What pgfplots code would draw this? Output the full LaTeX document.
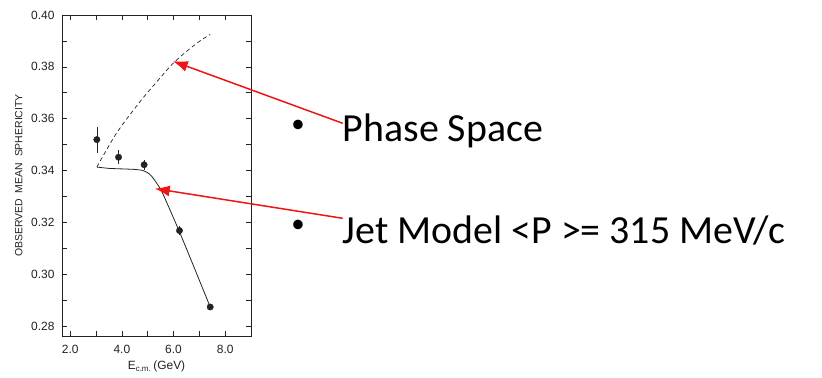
\documentclass[border=0pt]{standalone}
\usepackage{pgfplots}
\pgfplotsset{compat=1.18}
\usepackage{fontspec}
\setmainfont{Carlito}
\newfontfamily\scanfont{Liberation Sans}
\usetikzlibrary{arrows.meta}
\definecolor{ink}{RGB}{35,35,35}
\definecolor{arrowred}{RGB}{240,20,20}
\begin{document}
\begin{tikzpicture}[x=1bp,y=1bp]
\fill[white] (0,0) rectangle (822,377);
\begin{axis}[
  at={(62bp,41bp)}, anchor=south west,
  scale only axis, width=189bp, height=321bp,
  xmin=1.68, xmax=9, ymin=0.2761, ymax=0.40,
  axis line style={ink, line width=0.8pt},
  xtick={2,4,6,8}, minor xtick={3,5,7,9},
  ytick={0.28,0.30,0.32,0.34,0.36,0.38,0.40},
  minor ytick={0.29,0.31,0.33,0.35,0.37,0.39},
  tick align=inside, major tick length=5bp, minor tick length=5bp,
  every tick/.style={ink, line width=0.6pt},
  xticklabel style={/pgf/number format/fixed, /pgf/number format/fixed zerofill, /pgf/number format/precision=1, yshift=-6bp},
  yticklabel style={/pgf/number format/fixed, /pgf/number format/fixed zerofill, /pgf/number format/precision=2, xshift=-4bp},
  /pgf/number format/assume math mode=true,
  ticklabel style={font=\scanfont\fontsize{12}{14}\selectfont, text=ink},
  ylabel={OBSERVED\ \ MEAN\ \ SPHERICITY},
  ylabel style={font=\scanfont\fontsize{10.5}{12}\selectfont, text=ink, yshift=2bp},
  xlabel={E\textsubscript{c.m.}\,(GeV)},
  xlabel style={font=\scanfont\fontsize{12}{14}\selectfont, text=ink, yshift=0bp},
  clip=false,
]
% Phase space (dashed)
\addplot[ink, line width=0.7pt, dash pattern=on 4bp off 3bp, smooth, tension=0.6] coordinates {
  (3.03,0.3413) (3.35,0.3470) (3.74,0.3536) (4.12,0.3590) (4.51,0.3641)
  (4.90,0.3690) (5.35,0.3742) (5.93,0.3808) (6.45,0.3855) (6.97,0.3896) (7.42,0.3925)
};
% Jet model (solid)
\addplot[ink, line width=0.8pt, smooth, tension=0.35] coordinates {
  (3.03,0.3413) (3.5,0.3408) (4.0,0.3406) (4.5,0.3404) (4.8,0.3400)
  (5.0,0.3391) (5.15,0.3378) (5.3,0.3358) (5.53,0.3322) (5.8,0.3262)
  (6.23,0.3163) (6.8,0.3025) (7.42,0.2873)
};
% data points
\addplot[only marks, mark=*, mark size=3.2bp, ink, mark options={fill=ink},
  error bars/.cd, y dir=both, y explicit, error mark=none,
  error bar style={ink, line width=0.7pt}] coordinates {
  (3.03,0.3519) +- (0,0.0050)
  (3.87,0.3451) +- (0,0.0026)
  (4.86,0.3422) +- (0,0.0020)
  (6.23,0.3168) +- (0,0.0018)
  (7.42,0.2873) +- (0,0.0008)
};
\coordinate (tipA) at (axis cs:5.97,0.3822);
\coordinate (tipB) at (axis cs:5.27,0.3330);
\end{axis}
\draw[arrowred, line width=1.5bp, -{Latex[length=15bp,width=11bp]}] (342.7,253.7) -- (tipA);
\draw[arrowred, line width=1.5bp, -{Latex[length=15bp,width=11bp]}] (342.7,158.7) -- (tipB);
\node[inner sep=0pt] at (298,250.3) {\fontsize{27}{32}\selectfont\textbullet};
\node[inner sep=0pt] at (298,150.3) {\fontsize{27}{32}\selectfont\textbullet};
\node[anchor=base west, inner sep=0pt] at (342.7,236) {\fontsize{40}{48}\selectfont Phase Space};
\node[anchor=base west, inner sep=0pt] at (342.7,133.7) {\fontsize{40}{48}\selectfont Jet Model <P >= 315 MeV/c};
\path[use as bounding box] (0,0) rectangle (822,377);
\end{tikzpicture}
\end{document}
